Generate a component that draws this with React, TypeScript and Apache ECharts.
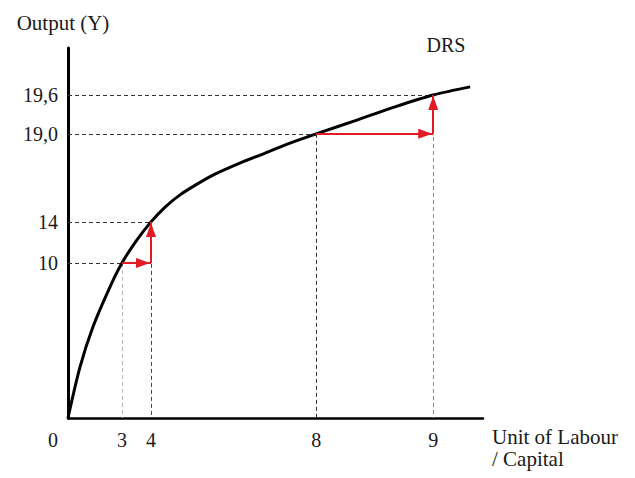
import React, { useEffect, useRef } from "react";
import * as echarts from "echarts";

// Schematic diagram: axis positions are not proportional to the labelled values,
// so tick labels are paired with their plotted positions.
const xTickLabels = ["0", "3", "4", "8", "9"];
const xTickPos = [0, 13.0, 20.0, 59.8, 88.0];
const yTickLabels = ["10", "14", "19,0", "19,6"];
const yTickPos = [41.9, 53.0, 76.8, 87.3];

// DRS production curve (plotted positions)
const curveX = [0, 2.9, 6.0, 10.1, 13.0, 16.4, 20.0, 23.4, 27.0, 31.1, 35.4, 41.4, 47.5, 53.5, 59.8, 69.6, 78.8, 88.0, 96.9];
const curveY = [0, 13.8, 24.6, 35.4, 41.9, 47.8, 53.0, 57.0, 60.3, 63.2, 65.9, 68.9, 71.6, 74.3, 76.8, 80.5, 84.1, 87.3, 89.5];

const verticalGuideColors = ["#b5b5b5", "#444444", "#333333", "#8a8a8a"];
const arrowPairs = [
  [0, 1],
  [2, 3],
];

const FONT = "Liberation Serif";

export default function App() {
  const ref = useRef<HTMLDivElement>(null);

  useEffect(() => {
    if (!ref.current) return;
    const chart = echarts.init(ref.current, null, { renderer: "svg" });

    const pts = [1, 2, 3, 4].map((i) => [xTickPos[i], yTickPos[i - 1]]);

    const guides: any[] = [];
    pts.forEach((p, k) => {
      guides.push([
        { coord: [0, p[1]], lineStyle: { color: "#333", type: [4, 3], width: 1 } },
        { coord: [p[0], p[1]] },
      ]);
      guides.push([
        { coord: [p[0], p[1]], lineStyle: { color: verticalGuideColors[k], type: [4, 3], width: 1 } },
        { coord: [p[0], 0] },
      ]);
    });

    const arrows: any[] = [];
    arrowPairs.forEach(([a, b]) => {
      arrows.push([{ coord: [pts[a][0], pts[a][1]] }, { coord: [pts[b][0], pts[a][1]] }]);
      arrows.push([{ coord: [pts[b][0], pts[a][1]] }, { coord: [pts[b][0], pts[b][1]] }]);
    });

    const findLabel = (pos: number[], labels: string[], v: number) => {
      const i = pos.findIndex((p) => Math.abs(p - v) < 0.01);
      return i >= 0 ? labels[i] : "";
    };

    chart.setOption({
      animation: false,
      backgroundColor: "#ffffff",
      grid: { left: 68, right: 152, top: 48, bottom: 60, containLabel: false, outerBoundsMode: "none" },
      xAxis: {
        type: "value",
        min: 0,
        max: 100,
        name: "Unit of Labour\n/ Capital",
        nameLocation: "end",
        nameGap: 9,
        nameTextStyle: {
          fontFamily: FONT,
          fontSize: 21,
          color: "#1a1a1a",
          align: "left",
          verticalAlign: "top",
          lineHeight: 22,
          padding: [8, 0, 0, 0],
        },
        axisLine: { show: true, onZero: false, lineStyle: { color: "#000", width: 2.5 } },
        axisTick: { show: false },
        splitLine: { show: false },
        axisLabel: {
          customValues: xTickPos,
          margin: 12,
          fontFamily: FONT,
          fontSize: 20,
          color: "#1a1a1a",
          formatter: (v: number) => {
            const s = findLabel(xTickPos, xTickLabels, v);
            return v === 0 ? "{z|" + s + "}" : s;
          },
          rich: {
            z: { fontFamily: FONT, fontSize: 20, color: "#1a1a1a", padding: [0, 30, 0, 0] },
          },
        },
      },
      yAxis: {
        type: "value",
        min: 0,
        max: 100,
        name: "Output (Y)",
        nameLocation: "end",
        nameGap: 15,
        nameTextStyle: {
          fontFamily: FONT,
          fontSize: 21,
          color: "#1a1a1a",
          padding: [0, 10, 0, 0],
        },
        axisLine: { show: true, onZero: false, lineStyle: { color: "#000", width: 3 } },
        axisTick: { show: false },
        splitLine: { show: false },
        axisLabel: {
          customValues: yTickPos,
          margin: 10,
          fontFamily: FONT,
          fontSize: 20,
          color: "#1a1a1a",
          formatter: (v: number) => findLabel(yTickPos, yTickLabels, v),
        },
      },
      graphic: [
        {
          type: "text",
          x: 446,
          y: 45,
          style: {
            text: "DRS",
            fontFamily: FONT,
            fontSize: 20,
            fill: "#1a1a1a",
            textAlign: "center",
            textVerticalAlign: "middle",
          },
        },
      ],
      series: [
        {
          type: "line",
          data: [],
          z: 1,
          silent: true,
          markLine: {
            silent: true,
            symbol: "none",
            label: { show: false },
            animation: false,
            data: guides,
            z: 1,
          },
        },
        {
          type: "line",
          data: curveX.map((x, i) => [x, curveY[i]]),
          smooth: 0.3,
          showSymbol: false,
          symbol: "none",
          lineStyle: { color: "#000", width: 3 },
          z: 3,
          silent: true,
        },
        {
          type: "line",
          data: [],
          z: 4,
          silent: true,
          markLine: {
            silent: true,
            symbol: ["none", "triangle"],
            symbolSize: [10, 14],
            symbolOffset: [0, [0, 8]],
            label: { show: false },
            animation: false,
            lineStyle: { color: "#e31b23", type: "solid", width: 2 },
            itemStyle: { color: "#e31b23" },
            data: arrows,
            z: 6,
          },
        },
      ],
    });

    return () => chart.dispose();
  }, []);

  return (
    <div
      ref={ref}
      style={{ position: "fixed", left: 0, top: 0, width: 635, height: 478, background: "#fff" }}
    />
  );
}
